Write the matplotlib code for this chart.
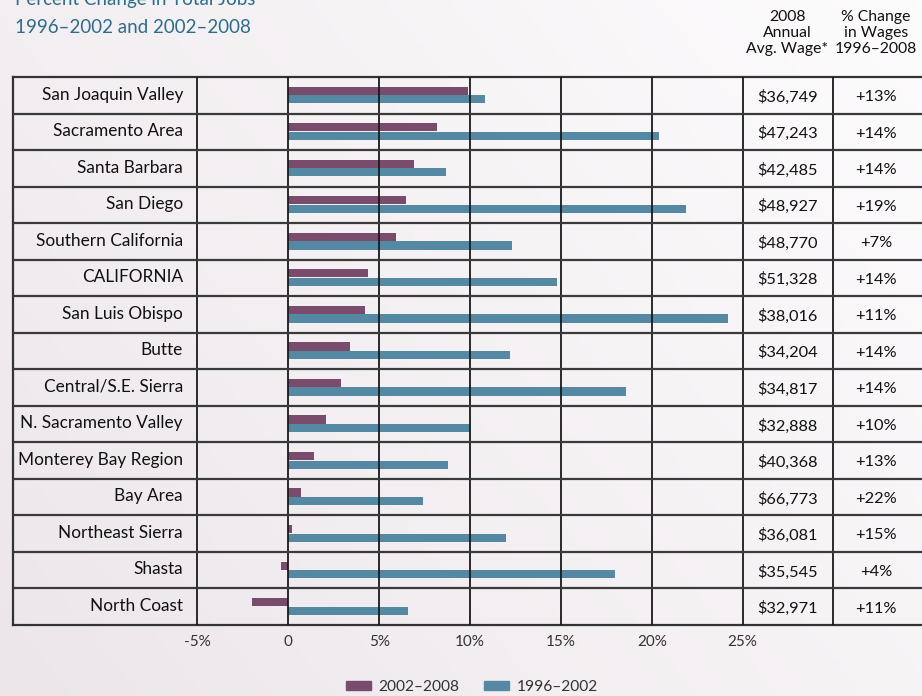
import numpy as np
import matplotlib.pyplot as plt
from matplotlib.patches import Patch

plt.rcParams['font.family'] = ['Lato', 'DejaVu Sans']

regions = ["San Joaquin Valley", "Sacramento Area", "Santa Barbara", "San Diego",
           "Southern California", "CALIFORNIA", "San Luis Obispo", "Butte",
           "Central/S.E. Sierra", "N. Sacramento Valley", "Monterey Bay Region",
           "Bay Area", "Northeast Sierra", "Shasta", "North Coast"]
jobs_0208 = [9.9, 8.2, 6.9, 6.5, 5.9, 4.4, 4.2, 3.4, 2.9, 2.1, 1.4, 0.7, 0.2, -0.4, -2.0]
jobs_9602 = [10.8, 20.4, 8.7, 21.9, 12.3, 14.8, 24.2, 12.2, 18.6, 10.0, 8.8, 7.4, 12.0, 18.0, 6.6]
avg_wage = ["$36,749", "$47,243", "$42,485", "$48,927", "$48,770", "$51,328", "$38,016",
            "$34,204", "$34,817", "$32,888", "$40,368", "$66,773", "$36,081", "$35,545",
            "$32,971"]
wage_change = ["+13%", "+14%", "+14%", "+19%", "+7%", "+14%", "+11%", "+14%", "+14%",
               "+10%", "+13%", "+22%", "+15%", "+4%", "+11%"]
ticks = [-5, 0, 5, 10, 15, 20, 25]
tick_labels = ["-5%", "0", "5%", "10%", "15%", "20%", "25%"]

PURPLE = '#794b6d'
TEAL = '#5589a3'
TITLE_C = '#2c6d8a'
W, H = 922, 696

fig = plt.figure(figsize=(W / 100, H / 100), dpi=100)

# soft background gradient
bg = fig.add_axes([0, 0, 1, 1])
gx, gy = np.meshgrid(np.linspace(0, 1, 200), np.linspace(0, 1, 200))
grad = np.clip((gx + 0.6 * (1 - gy)) / 1.6, 0, 1)
bg.imshow(grad, cmap=plt.matplotlib.colors.LinearSegmentedColormap.from_list(
    'bg', ['#ece6ea', '#fdfcfd']), aspect='auto', extent=[0, 1, 0, 1], origin='upper')
bg.axis('off')

ax = fig.add_axes([13 / W, 1 - 625 / H, 909 / W, 548 / H])
ax.patch.set_alpha(0)
ax.set_xlim(-15.15, 34.87)
ax.set_ylim(14.5, -0.5)

y = np.arange(len(regions))
ax.barh(y - 0.125, jobs_0208, height=0.225, color=PURPLE, zorder=2)
ax.barh(y + 0.11, jobs_9602, height=0.225, color=TEAL, zorder=2)

for xv in [-5, 0, 5, 10, 15, 20, 25, 30]:
    ax.axvline(xv, color='#1a1a1a', lw=1.3, zorder=3)
for i in range(1, len(regions)):
    ax.axhline(i - 0.5, color='#3a3a3a', lw=1.6, zorder=3)

for s in ['top', 'bottom', 'left']:
    ax.spines[s].set_color('#333333')
    ax.spines[s].set_linewidth(1.6)
ax.spines['right'].set_visible(False)

ax.set_xticks(ticks, tick_labels)
ax.set_yticks([])
ax.tick_params(axis='x', length=0, pad=7, labelsize=11, labelcolor='#333333')

for i in range(len(regions)):
    ax.text(-5.8, i - 0.02, regions[i], ha='right', va='center', fontsize=12.4, color='#111111')
    ax.text(27.45, i + 0.05, avg_wage[i], ha='center', va='center', fontsize=11.8, color='#111111')
    ax.text(32.35, i + 0.05, wage_change[i], ha='center', va='center', fontsize=11.8, color='#111111')

# title (first line runs off the top edge, as in the source)
fig.text(15 / W, 1 - 5 / H, "Percent Change in Total Jobs", va='baseline', fontsize=13.5, color=TITLE_C)
fig.text(15 / W, 1 - 33 / H, "1996–2002 and 2002–2008", va='baseline', fontsize=13.5, color=TITLE_C)

# column headers
fig.text(787 / W, 1 - 10 / H, "2008\nAnnual\nAvg. Wage*", ha='center', va='top', ma='center',
         fontsize=11.3, linespacing=1.2, color='#111111')
fig.text(876 / W, 1 - 10 / H, "% Change\nin Wages\n1996–2008", ha='center', va='top', ma='center',
         fontsize=11.3, linespacing=1.2, color='#111111')

handles = [Patch(color=PURPLE, label='2002–2008'), Patch(color=TEAL, label='1996–2002')]
fig.legend(handles=handles, loc='center', bbox_to_anchor=(472 / W, 1 - 687 / H), ncol=2,
           frameon=False, fontsize=11.2, handlelength=1.6, handleheight=0.5,
           columnspacing=1.6, handletextpad=0.5, labelcolor='#333333')

fig.savefig('out.png', dpi=100)
